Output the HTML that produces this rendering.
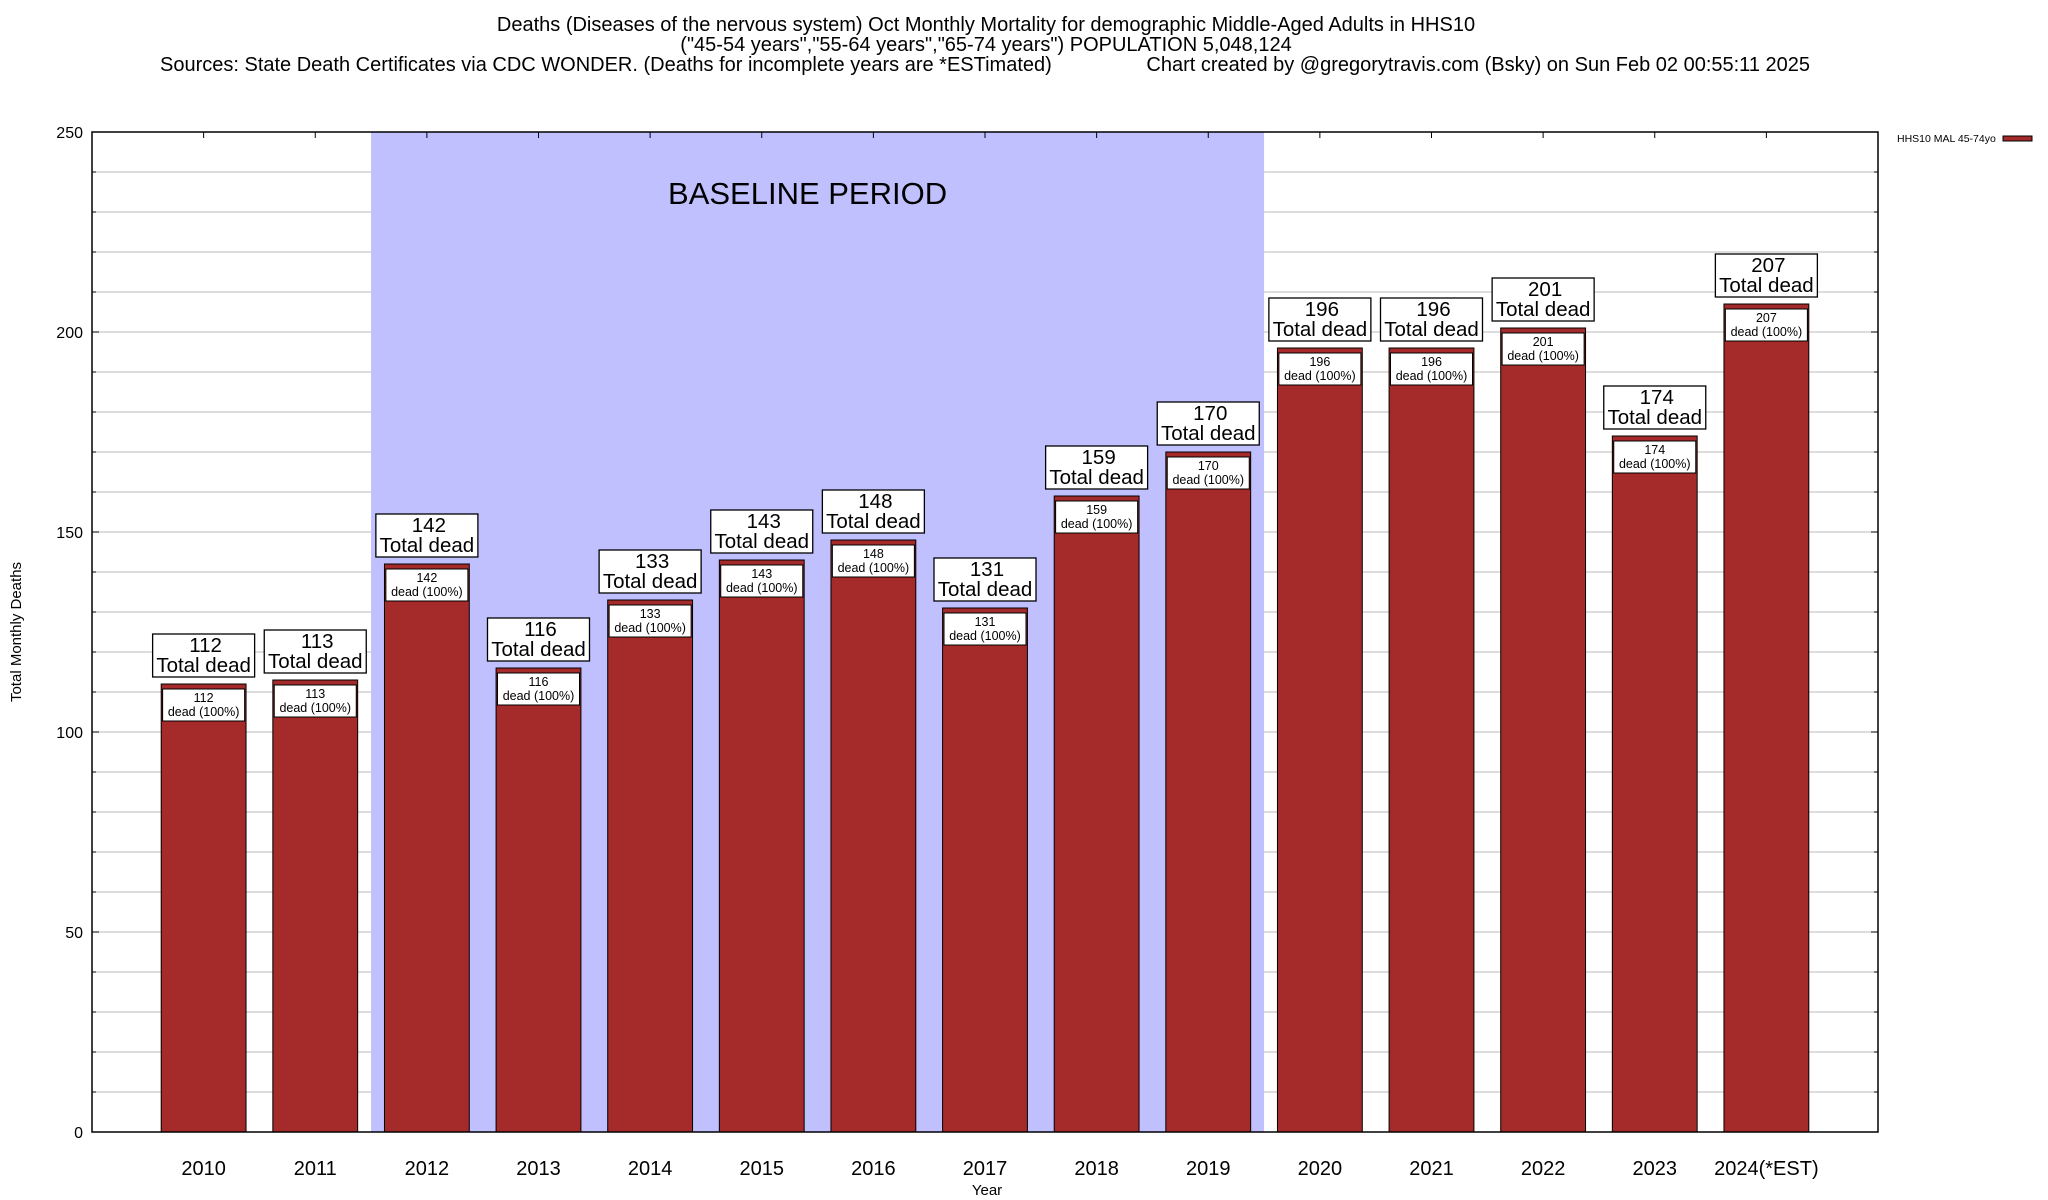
<!DOCTYPE html>
<html><head><meta charset="utf-8">
<style>
html,body{margin:0;padding:0;background:#fff;}
svg{display:block;font-family:"Liberation Sans",Arial,sans-serif;}
</style></head>
<body>
<svg id="chart" width="2048" height="1200" viewBox="0 0 2048 1200" xmlns="http://www.w3.org/2000/svg">
<g>
<text x="986" y="31" font-size="20" text-anchor="middle">Deaths (Diseases of the nervous system) Oct Monthly Mortality for demographic Middle-Aged Adults in HHS10</text>
<text x="986" y="51" font-size="20" text-anchor="middle">("45-54 years","55-64 years","65-74 years") POPULATION 5,048,124</text>
<text x="160" y="71" font-size="20">Sources: State Death Certificates via CDC WONDER. (Deaths for incomplete years are *ESTimated)</text>
<text x="1810" y="71" font-size="20" text-anchor="end">Chart created by @gregorytravis.com (Bsky) on Sun Feb 02 00:55:11 2025</text>
</g>
<g id="grid"></g>
<rect id="baseline" fill="#c0c0ff"></rect>
<text id="baselineText" font-size="31" text-anchor="middle">BASELINE PERIOD</text>
<g id="bars"></g>
<rect x="92" y="132" width="1786" height="1000" fill="none" stroke="#000" stroke-width="1.5"></rect>
<g id="yticks"></g>
<g id="xticks"></g>
<text x="987" y="1195" font-size="15" text-anchor="middle">Year</text>
<text x="0" y="0" font-size="15" text-anchor="middle" transform="translate(21,632) rotate(-90)">Total Monthly Deaths</text>
<g>
<text x="1897" y="142" font-size="10.5">HHS10 MAL 45-74yo</text>
<rect x="2003" y="136" width="29" height="5" fill="#a52a2a" stroke="#000" stroke-width="1"></rect>
</g>
</svg>
<script>
const categories = ["2010","2011","2012","2013","2014","2015","2016","2017","2018","2019","2020","2021","2022","2023","2024(*EST)"];
const deaths = [112,113,142,116,133,143,148,131,159,170,196,196,201,174,207];
const yTicks = [0,50,100,150,200,250];
const baselineStart = 2; // index of 2012
const baselineEnd = 9;   // index of 2019

const NS = "http://www.w3.org/2000/svg";
const L=92, R=1878, T=132, B=1132, YMAX=250;
const unit = (R-L)/(categories.length+1);
function xS(i){ return L + (i+1)*unit; }
function yS(v){ return B - v/YMAX*(B-T); }
function mk(tag, attrs, parent){ const e=document.createElementNS(NS,tag); for(const k in attrs) e.setAttribute(k,attrs[k]); parent.appendChild(e); return e; }

const grid=document.getElementById('grid');
for(let v=10; v<YMAX; v+=10){
  const ln=mk('line',{x1:L,x2:R,y1:yS(v),y2:yS(v),stroke:'#bbb','stroke-width':1},grid);
  
  
}
const yt=document.getElementById('yticks');
for(let v=10; v<YMAX; v+=10){
  const major = v%50===0;
  const a=mk('line',{x1:L,x2:L+(major?7:4),y1:yS(v),y2:yS(v),stroke:'#000','stroke-width':1},yt);
   
  const b=mk('line',{x1:R,x2:R-(major?7:4),y1:yS(v),y2:yS(v),stroke:'#000','stroke-width':1},yt);
   
}
yTicks.forEach(v=>{
  const t=mk('text',{x:L-9,y:yS(v)+6,'font-size':16,'text-anchor':'end'},yt);
  t.textContent=v;
  
  
});

const bs=document.getElementById('baseline');
bs.setAttribute('x', xS(baselineStart)-unit/2);
bs.setAttribute('y', T);
bs.setAttribute('width', (baselineEnd-baselineStart+1)*unit);
bs.setAttribute('height', B-T);
const bt=document.getElementById('baselineText');
bt.setAttribute('x', (xS(baselineStart)+xS(baselineEnd))/2 - 10);
bt.setAttribute('y', 204);

const xt=document.getElementById('xticks');
const bars=document.getElementById('bars');
const bw=unit*0.76;
categories.forEach((c,i)=>{
  const cx=xS(i), v=deaths[i], top=yS(v);
  const tk=mk('line',{x1:cx,x2:cx,y1:T,y2:T+6,stroke:'#000','stroke-width':1},xt);
   
  const lb=mk('text',{x:cx,y:1175,'font-size':20,'text-anchor':'middle'},xt);
  lb.textContent=c;
  
  

  const g=mk('g',{},bars);
  
  
  const r=mk('rect',{x:cx-bw/2,y:top,width:bw,height:B-top,fill:'#a52a2a',stroke:'#000','stroke-width':1},g);
  
  
  const ib=mk('rect',{x:cx-41,y:top+5,width:82,height:32,fill:'#fff',stroke:'#000','stroke-width':1},g);
  
  
  const i1=mk('text',{x:cx,y:top+18,'font-size':12.5,'text-anchor':'middle'},g);
  i1.textContent=v;
  
  
  const i2=mk('text',{x:cx,y:top+32,'font-size':12.5,'text-anchor':'middle'},g);
  i2.textContent='dead (100%)';
  
  
  const ob=mk('rect',{x:cx-51,y:top-50,width:102,height:43,fill:'#fff',stroke:'#000','stroke-width':1.3},g);
  
  
  const o1=mk('text',{x:cx+2,y:top-32,'font-size':20.5,'text-anchor':'middle'},g);
  o1.textContent=v;
  
  
  const o2=mk('text',{x:cx,y:top-12,'font-size':20.5,'text-anchor':'middle'},g);
  o2.textContent='Total dead';
  
  
});
</script>
</body></html>
